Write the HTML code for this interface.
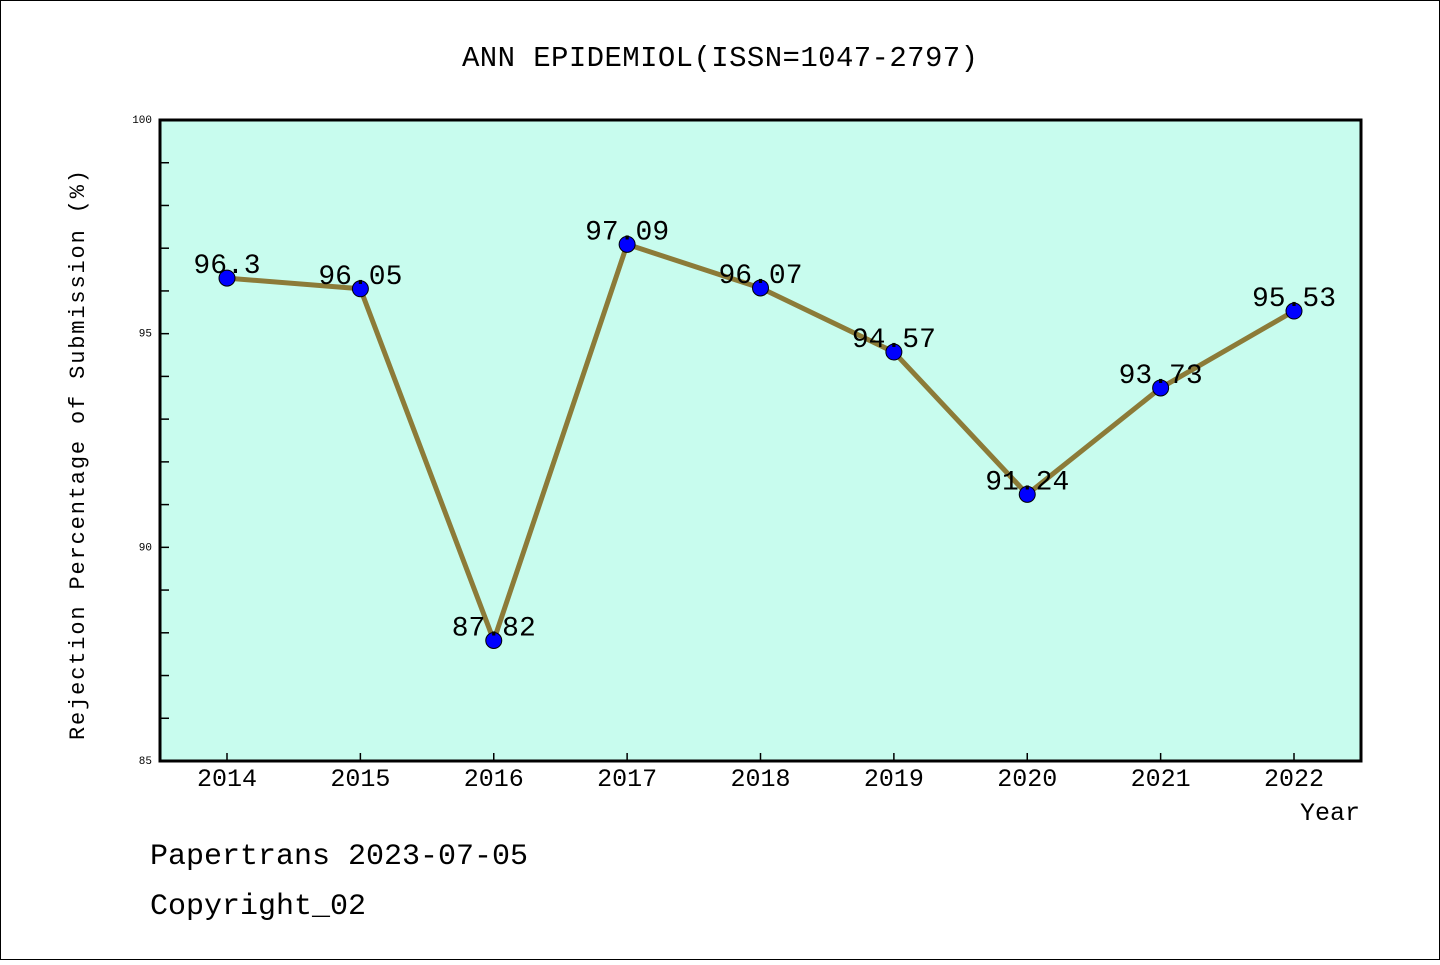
<!DOCTYPE html>
<html><head><meta charset="utf-8"><style>
html,body{margin:0;padding:0;background:#fff}
svg text{font-family:"Liberation Mono","Noto Sans CJK SC",monospace}
</style></head><body>
<svg id="chart" width="1440" height="960" xmlns="http://www.w3.org/2000/svg">
<rect x="0.5" y="0.5" width="1439" height="959" fill="#fff" stroke="#000" stroke-width="1"/>
<text x="720" y="66" font-size="29" text-anchor="middle" textLength="516">ANN EPIDEMIOL(ISSN=1047-2797)</text>
<rect x="160" y="120" width="1201" height="641" fill="#c8fcee"/>
<g id="axes"></g>
<g id="series"></g>
<rect x="160" y="120" width="1201" height="641" fill="none" stroke="#000" stroke-width="3"/>
<text x="84" y="455" font-size="22" text-anchor="middle" textLength="570" transform="rotate(-90 84 455)">Rejection Percentage of Submission (%)</text>
<text x="1360" y="820" font-size="25" text-anchor="end">Year</text>
<text x="150" y="864" font-size="30">Papertrans 2023-07-05</text>
<text x="150" y="914" font-size="30">Copyright_02</text>
</svg>
<script>
const years = [2014,2015,2016,2017,2018,2019,2020,2021,2022];
const rates = [96.3,96.05,87.82,97.09,96.07,94.57,91.24,93.73,95.53];
const labels = ["96.3","96.05","87.82","97.09","96.07","94.57","91.24","93.73","95.53"];
const yTicks = [85,90,95,100];
const yMin = 85, yMax = 100;
const NS = "http://www.w3.org/2000/svg";
function xs(i){return 227 + i*(1294-227)/(years.length-1);}
function ys(v){return 761 - (v-yMin)/(yMax-yMin)*641;}
function mk(tag, attrs, parent){const e=document.createElementNS(NS,tag);for(const k in attrs)e.setAttribute(k,attrs[k]);parent.appendChild(e);return e;}
const axes=document.getElementById('axes'), ser=document.getElementById('series');
for(let v=yMin+1; v<yMax; v++){
  const t=mk('line',{x1:160,x2:169,y1:ys(v),y2:ys(v),stroke:'#000','stroke-width':1.5},axes);
  
  
}
yTicks.forEach(v=>{
  const t=mk('text',{x:152,y:ys(v)+3,'font-size':11,'text-anchor':'end'},axes);
  t.textContent=v;
  
  
});
years.forEach((y,i)=>{
  const t=mk('line',{x1:xs(i),x2:xs(i),y1:761,y2:753,stroke:'#000','stroke-width':1.5},axes);
  
  
  const l=mk('text',{x:xs(i),y:786,'font-size':25,'text-anchor':'middle'},axes);
  l.textContent=y;
  
  
});
const pl=mk('polyline',{points:rates.map((v,i)=>xs(i)+','+ys(v)).join(' '),fill:'none',stroke:'#8c7b38','stroke-width':5,'stroke-linejoin':'round'},ser);


rates.forEach((v,i)=>{
  const c=mk('circle',{cx:xs(i),cy:ys(v),r:8,fill:'#0000ff',stroke:'#000','stroke-width':1},ser);
  
  
  const t=mk('text',{x:xs(i),y:ys(v)-5,'font-size':28,'text-anchor':'middle'},ser);
  t.textContent=labels[i];
  
  
});
</script>
</body></html>
